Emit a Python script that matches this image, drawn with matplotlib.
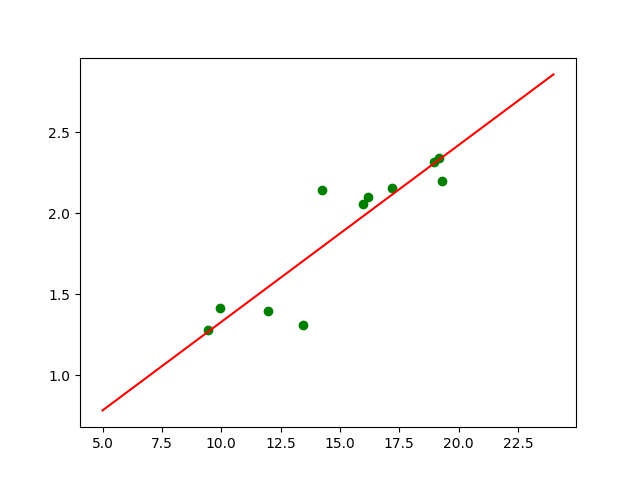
import matplotlib
matplotlib.use("Agg")
import matplotlib.pyplot as plt
import numpy as np

pts_x = [9.44, 9.95, 11.97, 13.45, 14.25, 15.99, 16.20, 17.21, 18.97, 19.18, 19.31]
pts_y = [1.278, 1.414, 1.395, 1.309, 2.142, 2.056, 2.099, 2.154, 2.315, 2.340, 2.198]

line_x = [5.0, 24.0]
line_y = [0.784, 2.858]

fig, ax = plt.subplots(figsize=(6.4, 4.8), dpi=100)
ax.scatter(pts_x, pts_y, color="green")
ax.plot(line_x, line_y, color="red")
fig.savefig("out.png")
